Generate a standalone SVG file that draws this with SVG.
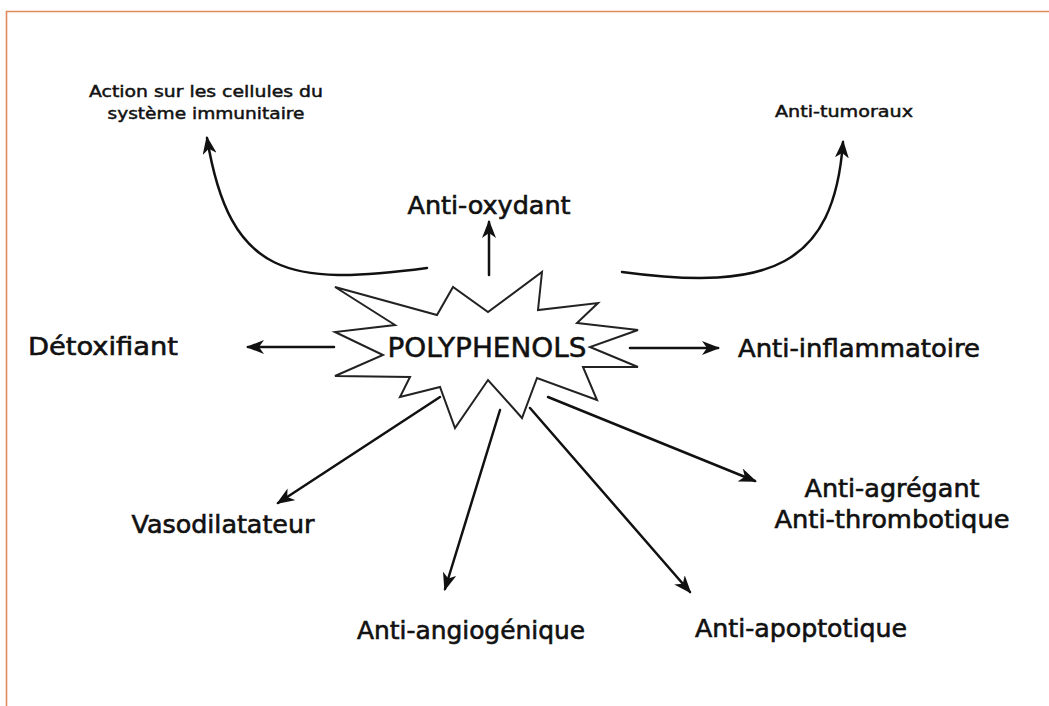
<svg xmlns="http://www.w3.org/2000/svg" width="1049" height="706" viewBox="0 0 1049 706">
<style>
.lbl{font-family:"DejaVu Sans",sans-serif;fill:#111;text-anchor:middle;stroke:#111}
.big{font-size:24px;stroke-width:0.6}
.small{font-size:15px;stroke-width:0.45}
.conn{fill:none;stroke:#111;stroke-width:2.5;stroke-linecap:round;marker-end:url(#ah)}
.burst{fill:#fff;stroke:#222;stroke-width:2;stroke-linejoin:miter}
</style>
<defs>
<marker id="ah" viewBox="0 0 18 14" refX="16" refY="7" markerWidth="18" markerHeight="14" markerUnits="userSpaceOnUse" orient="auto">
<path d="M0,0 L18,7 L0,14 L5,7 z" fill="#111"/>
</marker>
</defs>
<rect width="1049" height="706" fill="#fff"/>
<path d="M6.5,706 L6.5,11.5 L1049,11.5" fill="none" stroke="#E08A5C" stroke-width="1.6"/>

<g id="connectors">
<path class="conn" d="M427,268 C290,286 230,278 207,138"/>
<path class="conn" d="M622,272 C770,292 834,266 843,142"/>
<path class="conn" d="M489,275 L489,222"/>
<path class="conn" d="M334,347 L248,347"/>
<path class="conn" d="M630,348 L718,348"/>
<path class="conn" d="M440,397 L278,503"/>
<path class="conn" d="M500,410 L445,589"/>
<path class="conn" d="M530,408 L690,592"/>
<path class="conn" d="M548,397 L755,481"/>
</g>

<g id="node-polyphenols">
<polygon class="burst" points="335,287 437,315 453,287 488,312 542,272 538,310 598,303 577,323 638,330 590,347 638,367 583,367 597,400 537,378 522,418 488,380 455,428 440,387 400,397 410,377 335,376 383,355 335,332 395,325"/>
<text class="lbl" x="487" y="357" font-size="26" stroke-width="0.5" textLength="199" lengthAdjust="spacingAndGlyphs">POLYPHENOLS</text>
</g>

<g id="node-immunitaire">
<text class="lbl small" x="206" y="97" textLength="234" lengthAdjust="spacingAndGlyphs">Action sur les cellules du</text>
<text class="lbl small" x="206" y="119" textLength="197" lengthAdjust="spacingAndGlyphs">système immunitaire</text>
</g>
<g id="node-tumoraux">
<text class="lbl small" x="844" y="117" textLength="138" lengthAdjust="spacingAndGlyphs">Anti-tumoraux</text>
</g>
<g id="node-oxydant">
<text class="lbl big" x="489" y="214" textLength="163" lengthAdjust="spacingAndGlyphs">Anti-oxydant</text>
</g>
<g id="node-detoxifiant">
<text class="lbl big" x="103" y="355" textLength="150" lengthAdjust="spacingAndGlyphs">Détoxifiant</text>
</g>
<g id="node-inflammatoire">
<text class="lbl big" x="859" y="357" textLength="242" lengthAdjust="spacingAndGlyphs">Anti-inflammatoire</text>
</g>
<g id="node-vasodilatateur">
<text class="lbl big" x="223" y="533" textLength="183" lengthAdjust="spacingAndGlyphs">Vasodilatateur</text>
</g>
<g id="node-angiogenique">
<text class="lbl big" x="471" y="639" textLength="228" lengthAdjust="spacingAndGlyphs">Anti-angiogénique</text>
</g>
<g id="node-apoptotique">
<text class="lbl big" x="801" y="637" textLength="212" lengthAdjust="spacingAndGlyphs">Anti-apoptotique</text>
</g>
<g id="node-agregant">
<text class="lbl big" x="892" y="497" textLength="175" lengthAdjust="spacingAndGlyphs">Anti-agrégant</text>
<text class="lbl big" x="892" y="528" textLength="235" lengthAdjust="spacingAndGlyphs">Anti-thrombotique</text>
</g>
</svg>
